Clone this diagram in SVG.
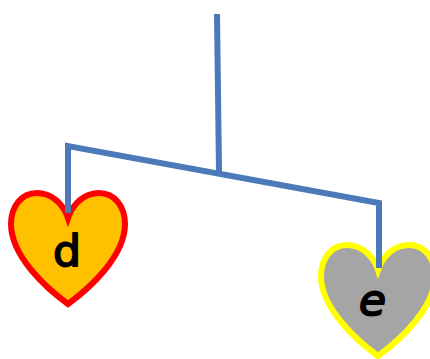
<svg xmlns="http://www.w3.org/2000/svg" width="430" height="359" viewBox="0 0 430 359">
<style>
.heart{stroke-width:6;stroke-linejoin:miter}
.lbl{font-family:"DejaVu Sans",sans-serif;font-size:43px;fill:#000;stroke:#000;stroke-width:1.8;stroke-linejoin:round}
.conn{fill:none;stroke:#4a7ab8;stroke-width:6;stroke-linejoin:miter}
</style>
<defs>
<path id="h" d="M68 218C63 203 51 193 37 193C21 193 11 207 11 224C11 256 46 288 68 304C90 288 125 256 125 224C125 207 115 193 99 193C85 193 73 203 68 218Z"/>
</defs>
<g id="node-d">
<use href="#h" class="heart" fill="#ffc000" stroke="#ff0000"/>
<text class="lbl" x="53" y="266" textLength="28" lengthAdjust="spacingAndGlyphs">d</text>
</g>
<g id="node-e">
<use href="#h" x="310" y="52" class="heart" fill="#a5a5a5" stroke="#ffff00"/>
<text class="lbl" x="359" y="315" font-style="italic" textLength="27" lengthAdjust="spacingAndGlyphs">e</text>
</g>
<g id="connectors">
<path class="conn" d="M217 14L219 172"/>
<path class="conn" d="M68 213V146L379 203V268"/>
</g>
</svg>
